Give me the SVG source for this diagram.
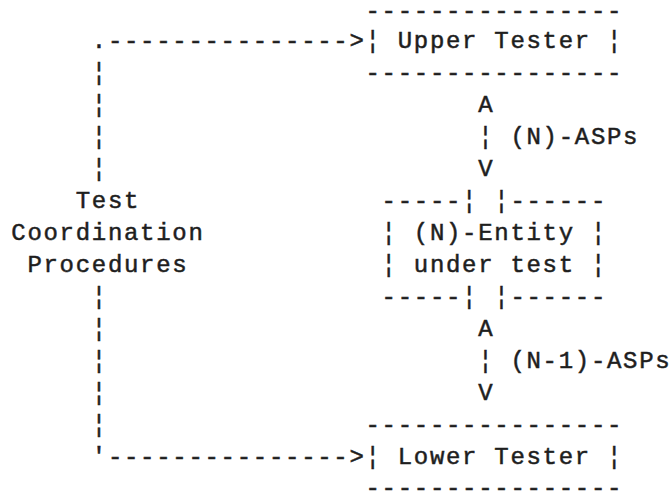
<svg xmlns="http://www.w3.org/2000/svg" width="671" height="492" viewBox="0 0 671 492">
<style>
text{font-family:"Liberation Mono","DejaVu Sans Mono",monospace;font-size:24px;letter-spacing:1.7px;fill:#1e1e1e;stroke:#1e1e1e;stroke-width:0.5px;white-space:pre}
</style>
<rect width="671" height="492" fill="#ffffff"/>
<g id="upper-tester">
<text x="365.5" y="18">----------------</text>
<text x="365.5" y="48">¦</text>
<text x="397.7" y="48">Upper Tester</text>
<text x="607.0" y="48">¦</text>
<text x="365.5" y="80">----------------</text>
</g>
<g id="entity-under-test">
<text x="381.6" y="208">-----</text>
<text x="462.1" y="208">¦</text>
<text x="494.3" y="208">¦</text>
<text x="510.4" y="208">------</text>
<text x="381.6" y="240">¦</text>
<text x="413.8" y="240">(N)-Entity</text>
<text x="590.9" y="240">¦</text>
<text x="381.6" y="272">¦</text>
<text x="413.8" y="272">under test</text>
<text x="590.9" y="272">¦</text>
<text x="381.6" y="304">-----</text>
<text x="462.1" y="304">¦</text>
<text x="494.3" y="304">¦</text>
<text x="510.4" y="304">------</text>
</g>
<g id="lower-tester">
<text x="365.5" y="432">----------------</text>
<text x="365.5" y="464">¦</text>
<text x="397.7" y="464">Lower Tester</text>
<text x="607.0" y="464">¦</text>
<text x="365.5" y="495">----------------</text>
</g>
<g id="test-coordination">
<text x="75.7" y="208">Test</text>
<text x="11.3" y="240">Coordination</text>
<text x="27.4" y="272">Procedures</text>
</g>
<g id="connectors">
<text x="91.8" y="48">.---------------&gt;</text>
<text x="91.8" y="80">¦</text>
<text x="91.8" y="112">¦</text>
<text x="91.8" y="144">¦</text>
<text x="91.8" y="176">¦</text>
<text x="91.8" y="304">¦</text>
<text x="91.8" y="336">¦</text>
<text x="91.8" y="368">¦</text>
<text x="91.8" y="400">¦</text>
<text x="91.8" y="432">¦</text>
<text x="91.8" y="464">'---------------&gt;</text>
<text x="478.2" y="112">A</text>
<text x="478.2" y="144">¦</text>
<text x="510.4" y="144">(N)-ASPs</text>
<text x="478.2" y="176">V</text>
<text x="478.2" y="336">A</text>
<text x="478.2" y="368">¦</text>
<text x="510.4" y="368">(N-1)-ASPs</text>
<text x="478.2" y="400">V</text>
</g>
</svg>
